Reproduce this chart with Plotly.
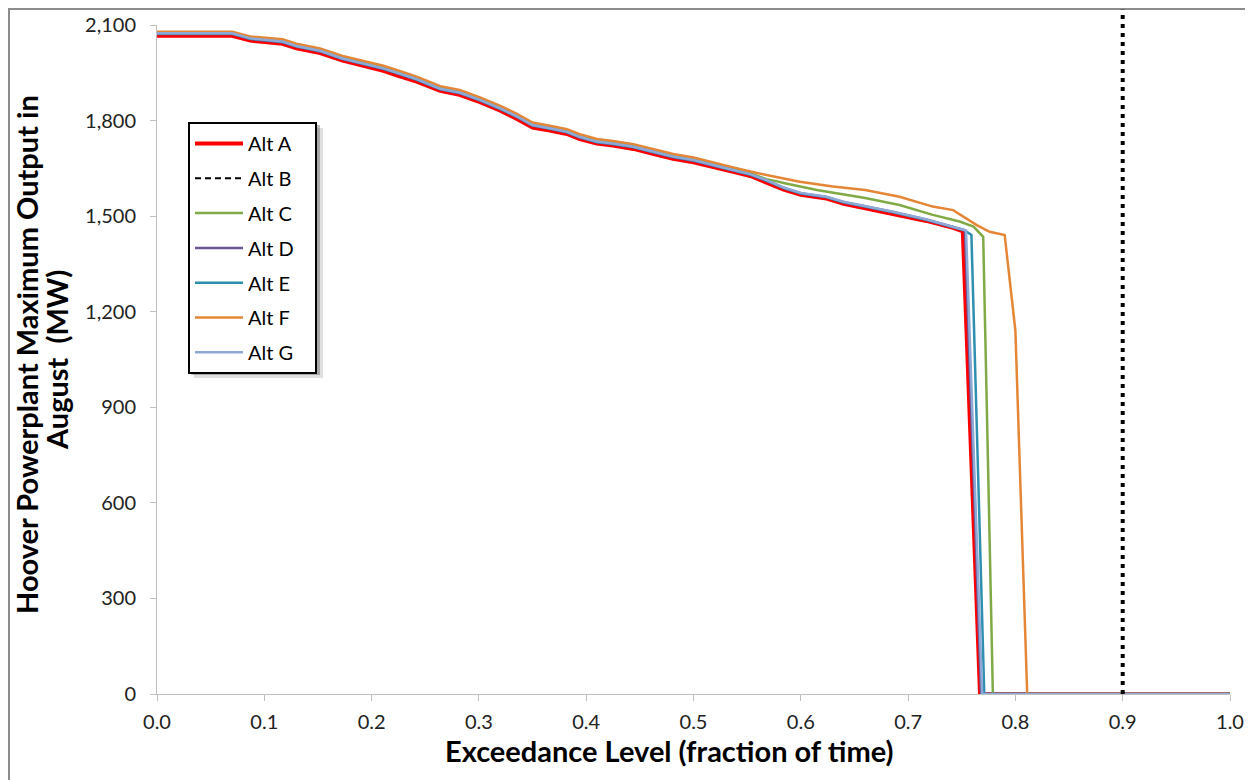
import plotly.graph_objects as go

# ---------------- data ----------------
MAIN_X = [0, 0.07, 0.087, 0.117, 0.13, 0.152, 0.173, 0.192, 0.211, 0.224, 0.242, 0.264, 0.282,
          0.301, 0.32, 0.335, 0.35, 0.366, 0.382, 0.394, 0.41, 0.425, 0.444, 0.463, 0.481, 0.5,
          0.518, 0.537, 0.553, 0.568, 0.584, 0.6, 0.624, 0.64, 0.655, 0.686, 0.717, 0.742]
G_Y = [2074, 2074, 2058, 2048, 2034, 2019, 1995, 1980, 1964, 1950, 1930, 1900, 1888,
       1865, 1838, 1814, 1786, 1776, 1765, 1749, 1734, 1728, 1718, 1702, 1687, 1676,
       1660, 1645, 1632, 1613, 1590, 1573, 1561, 1545, 1535, 1514, 1490, 1467]

ALT_A_X = MAIN_X + [0.751, 0.767, 1.0]
ALT_A_Y = [2066, 2066, 2051, 2041, 2027, 2012, 1988, 1972, 1956, 1941, 1922, 1893, 1881,
           1858, 1831, 1806, 1778, 1769, 1758, 1742, 1728, 1722, 1711, 1695, 1680, 1669,
           1653, 1639, 1626, 1606, 1583, 1567, 1555, 1539, 1529, 1508, 1485, 1463] + [1452, 0, 0]

# Alt B: vertical marker at exceedance 0.9, from 0 up past the top of the axis
ALT_B_X = [0.9, 0.9]
ALT_B_Y = [0, 2148]

ALT_C_X = MAIN_X[:30] + [0.577, 0.584, 0.615, 0.66, 0.692, 0.723, 0.748, 0.761, 0.77, 0.779, 1.0]
ALT_C_Y = [2076, 2076, 2061, 2051, 2037, 2022, 1998, 1983, 1967, 1953, 1933, 1903, 1891,
           1868, 1841, 1817, 1789, 1779, 1768, 1752, 1737, 1731, 1721, 1705, 1690, 1679,
           1663, 1648, 1635, 1616] + [1610, 1604, 1582, 1557, 1535, 1504, 1483, 1467, 1435, 0, 0]

ALT_D_X = MAIN_X + [0.753, 0.768, 1.0]
ALT_D_Y = [v - 2 for v in G_Y] + [1455, 0, 0]

ALT_E_X = MAIN_X + [0.752, 0.759, 0.771, 1.0]
ALT_E_Y = [v - 1 for v in G_Y] + [1457, 1441, 0, 0]

ALT_F_X = MAIN_X[:29] + [0.56, 0.568, 0.599, 0.63, 0.66, 0.692, 0.723, 0.742, 0.764, 0.776,
                         0.79, 0.80, 0.811, 1.0]
ALT_F_Y = [2079, 2079, 2064, 2055, 2041, 2026, 2003, 1988, 1972, 1958, 1938, 1908, 1896,
           1873, 1846, 1822, 1794, 1784, 1773, 1757, 1742, 1736, 1726, 1710, 1695, 1684,
           1668, 1653, 1640] + [1634, 1629, 1608, 1593, 1582, 1561, 1530, 1519, 1472, 1451,
                                1441, 1140, 0, 0]

ALT_G_X = MAIN_X + [0.754, 0.769, 1.0]
ALT_G_Y = G_Y + [1455, 0, 0]

X_TICKS = [0.0, 0.1, 0.2, 0.3, 0.4, 0.5, 0.6, 0.7, 0.8, 0.9, 1.0]
Y_TICKS = [0, 300, 600, 900, 1200, 1500, 1800, 2100]

NAMES = ["Alt A", "Alt B", "Alt C", "Alt D", "Alt E", "Alt F", "Alt G"]
COLORS = ["#FF0000", "#000000", "#7FAA45", "#6B5493", "#2E8FB0", "#E48636", "#8FA9D6"]

FONT = "Lato"
Y_MAX = 2100

# page is rendered with an 8px body margin; plot area positions are given in page pixels
PW, PH = 1245, 772


def px(page_x):
    return (page_x - 157) / 1073


def py(page_y):
    return (694 - page_y) / 669


fig = go.Figure()

PAD = "\u00a0\u00a0\u00a0"
series = [
    (NAMES[0], ALT_A_X, ALT_A_Y, COLORS[0], 4),
    (NAMES[1], None, None, COLORS[1], 2),
    (NAMES[2], ALT_C_X, ALT_C_Y, COLORS[2], 2.5),
    (NAMES[3], ALT_D_X, ALT_D_Y, COLORS[3], 2.5),
    (NAMES[4], ALT_E_X, ALT_E_Y, COLORS[4], 2.5),
    (NAMES[5], ALT_F_X, ALT_F_Y, COLORS[5], 2.5),
    (NAMES[6], ALT_G_X, ALT_G_Y, COLORS[6], 2.5),
]
for name, xs, ys, col, w in series:
    if xs is None:
        # legend proxy for Alt B; line itself drawn as a shape below
        fig.add_trace(go.Scatter(x=[None], y=[None], mode="lines", name=name + PAD,
                                 legendgroup=name,
                                 line=dict(color=col, width=w, dash="6px,4px")))
    else:
        fig.add_trace(go.Scatter(x=xs, y=ys, mode="lines", name=name + PAD, legendgroup=name,
                                 line=dict(color=col, width=w), hovertext=name,
                                 hoverinfo="x+y+text"))

# Alt B vertical dotted line (x in data units; y in axis fraction so it can pass the top)
fig.add_shape(type="line", xref="x", yref="paper", x0=ALT_B_X[0], x1=ALT_B_X[1],
              y0=ALT_B_Y[0] / Y_MAX, y1=ALT_B_Y[1] / Y_MAX,
              line=dict(color="black", width=4, dash="4px,5px"), layer="above")

# outer chart frame
fig.add_shape(type="rect", xref="paper", yref="paper",
              x0=px(9), x1=px(1275), y0=py(800), y1=py(9),
              line=dict(color="#8c8c8c", width=2), layer="below")

# legend shadow (soft)
fig.add_shape(type="rect", xref="paper", yref="paper",
              x0=px(194), x1=px(323), y0=py(378), y1=py(128),
              line=dict(width=0), fillcolor="rgba(0,0,0,0.12)", layer="above")
fig.add_shape(type="rect", xref="paper", yref="paper",
              x0=px(191), x1=px(320), y0=py(375), y1=py(125),
              line=dict(width=0), fillcolor="rgba(0,0,0,0.25)", layer="above")

fig.update_layout(
    width=PW, height=PH,
    margin=dict(l=149, r=23, t=17, b=86, autoexpand=False),
    paper_bgcolor="white", plot_bgcolor="white",
    font=dict(family=FONT, size=20, color="#222"),
    showlegend=True,
    legend=dict(x=px(188), y=py(122), xanchor="left", yanchor="top",
                bgcolor="white", bordercolor="black", borderwidth=2,
                font=dict(family=FONT, size=20, color="black"),
                tracegroupgap=5.8, itemwidth=48),
    xaxis=dict(range=[0, 1], tickvals=X_TICKS, ticktext=[f"{v:.1f}" for v in X_TICKS],
               automargin=False,
               showgrid=False, zeroline=False, showline=True, linecolor="#BFBFBF", linewidth=1,
               ticks="outside", ticklen=6, tickcolor="#BFBFBF", ticklabelstandoff=4,
               tickfont=dict(family=FONT, size=20, color="#222")),
    yaxis=dict(range=[0, Y_MAX], tickvals=Y_TICKS, ticktext=[f"{v:,}" for v in Y_TICKS],
               automargin=False,
               showgrid=False, zeroline=False, showline=True, linecolor="#BFBFBF", linewidth=1,
               ticks="outside", ticklen=6, tickcolor="#BFBFBF", ticklabelstandoff=10,
               tickfont=dict(family=FONT, size=20, color="#222")),
    annotations=[
        dict(text="<b>Exceedance Level (fraction of time)</b>", xref="paper", yref="paper",
             x=px(669), y=py(750), xanchor="center", yanchor="middle",
             showarrow=False, font=dict(family=FONT, size=29, color="black")),
        dict(text="<b>Hoover Powerplant Maximum Output in</b>",
             xref="paper", yref="paper", x=px(26), y=py(355),
             xanchor="center", yanchor="middle", textangle=-90, showarrow=False,
             font=dict(family=FONT, size=29, color="black")),
        dict(text="<b>August  (MW)</b>",
             xref="paper", yref="paper", x=px(56), y=py(360),
             xanchor="center", yanchor="middle", textangle=-90, showarrow=False,
             font=dict(family=FONT, size=29, color="black")),
    ],
)

fig.write_html("out.html")
